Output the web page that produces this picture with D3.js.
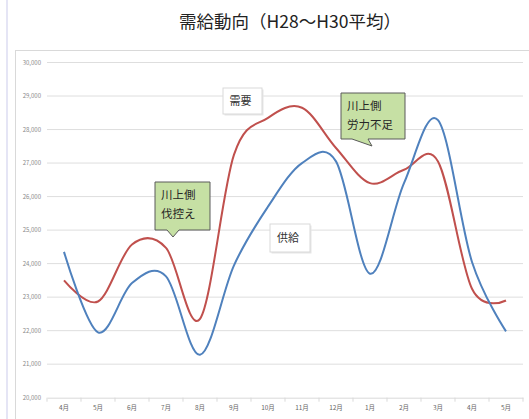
<!DOCTYPE html>
<html>
<head>
<meta charset="utf-8">
<script src="https://cdn.jsdelivr.net/npm/d3@7"></script>
<style>
  body { margin: 0; background: #fff; }
  svg { display: block; font-family: "Noto Sans CJK JP", "Noto Sans", sans-serif; }
</style>
</head>
<body>
<svg id="chart" width="529" height="419"></svg>
<script>
// values
const months = ["4月","5月","6月","7月","8月","9月","10月","11月","12月","1月","2月","3月","4月","5月"]
const demand = [23500, 22870, 24570, 24470, 22350, 27250, 28350, 28650, 27450, 26400, 26800, 27050, 23250, 22900]
const supply = [24350, 21950, 23420, 23620, 21280, 23950, 25700, 27000, 27050, 23700, 26400, 28280, 24050, 21980]
const yTicks = [20000, 21000, 22000, 23000, 24000, 25000, 26000, 27000, 28000, 29000, 30000]

const svg = d3.select("#chart")

// frame
svg.append("line").attr("x1", 7).attr("x2", 7).attr("y1", 0).attr("y2", 419)
    .attr("stroke", "#dcdcf2").attr("stroke-width", 1.5)
svg.append("rect").attr("x", 15.5).attr("y", 50.5).attr("width", 520).attr("height", 380)
    .attr("fill", "none").attr("stroke", "#d9d9d9")

svg.append("text").text("需給動向（H28～H30平均）")
    .attr("x", 290).attr("y", 28).attr("text-anchor", "middle")
    .attr("font-size", 17.5).attr("fill", "#222")

let x = d3.scaleBand().domain(d3.range(months.length)).range([47, 523])
let y = d3.scaleLinear().domain([20000, 30000]).range([397.7, 62.5])

// gridlines
svg.append("g").selectAll("line").data(yTicks.slice(1)).join("line")
    .attr("x1", 47).attr("x2", 523)
    .attr("y1", d => y(d)).attr("y2", d => y(d))
    .attr("stroke", "#dedede").attr("stroke-width", 1)

// y labels
svg.append("g").selectAll("text").data(yTicks).join("text")
    .text(d => d3.format(",")(d))
    .attr("x", 41).attr("y", d => y(d) + 2)
    .attr("text-anchor", "end").attr("font-size", 6).attr("fill", "#8a8a8a")

// x axis
let xAxis = d3.axisBottom(x).tickSize(0).tickFormat(i => months[i])
let gx = svg.append("g").attr("transform", "translate(0," + y(20000) + ")").call(xAxis)
gx.select(".domain").attr("stroke", "#d9d9d9")
gx.selectAll("text").attr("font-size", 6.5).attr("fill", "#666").attr("dy", "1.4em")
    .attr("font-family", "\"Noto Sans CJK JP\", sans-serif")
gx.selectAll(".bound").data(d3.range(months.length + 1)).join("line").attr("class", "bound")
    .attr("x1", i => 47 + i * x.step()).attr("x2", i => 47 + i * x.step())
    .attr("y1", 0).attr("y2", 4).attr("stroke", "#d9d9d9")

let line = d3.line()
    .x((d, i) => x(i) + x.bandwidth() / 2)
    .y(d => y(d))
    .curve(d3.curveCatmullRom.alpha(0))

svg.append("path").datum(demand).attr("d", line)
    .attr("fill", "none").attr("stroke", "#c0504d").attr("stroke-width", 2)
svg.append("path").datum(supply).attr("d", line)
    .attr("fill", "none").attr("stroke", "#4f81bd").attr("stroke-width", 2)

// series labels
function labelBox(x0, y0, w, h, txt) {
    svg.append("rect").attr("x", x0 + 1.5).attr("y", y0 + 1.5).attr("width", w).attr("height", h)
        .attr("fill", "#e6e6e6")
    svg.append("rect").attr("x", x0).attr("y", y0).attr("width", w).attr("height", h)
        .attr("fill", "#fff").attr("stroke", "#d9d9d9")
    svg.append("text").text(txt).attr("x", x0 + w / 2 - 2).attr("y", y0 + h / 2 + 4)
        .attr("text-anchor", "middle").attr("font-size", 11).attr("fill", "#333")
}
labelBox(223, 88, 39, 26, "需要")
labelBox(270, 224, 40, 28, "供給")

// green callouts
function callout(x0, y0, w, h, b1, b2, tip, lines) {
    let p = [[x0, y0], [x0 + w, y0], [x0 + w, y0 + h], [b2, y0 + h], tip, [b1, y0 + h], [x0, y0 + h]]
    svg.append("path").attr("d", "M" + p.join("L") + "Z")
        .attr("fill", "#c6e0a4").attr("stroke", "#5a5a5a").attr("stroke-width", 1)
    lines.forEach((t, i) => {
        svg.append("text").text(t).attr("x", x0 + 6).attr("y", y0 + 17 + i * 19)
            .attr("font-size", 11.5).attr("fill", "#262626")
    })
}
callout(155, 182, 55, 48, 167, 179, [173, 237], ["川上側", "伐控え"])
callout(341, 93, 64, 46, 352, 368, [372, 146], ["川上側", "労力不足"])
</script>
</body>
</html>
